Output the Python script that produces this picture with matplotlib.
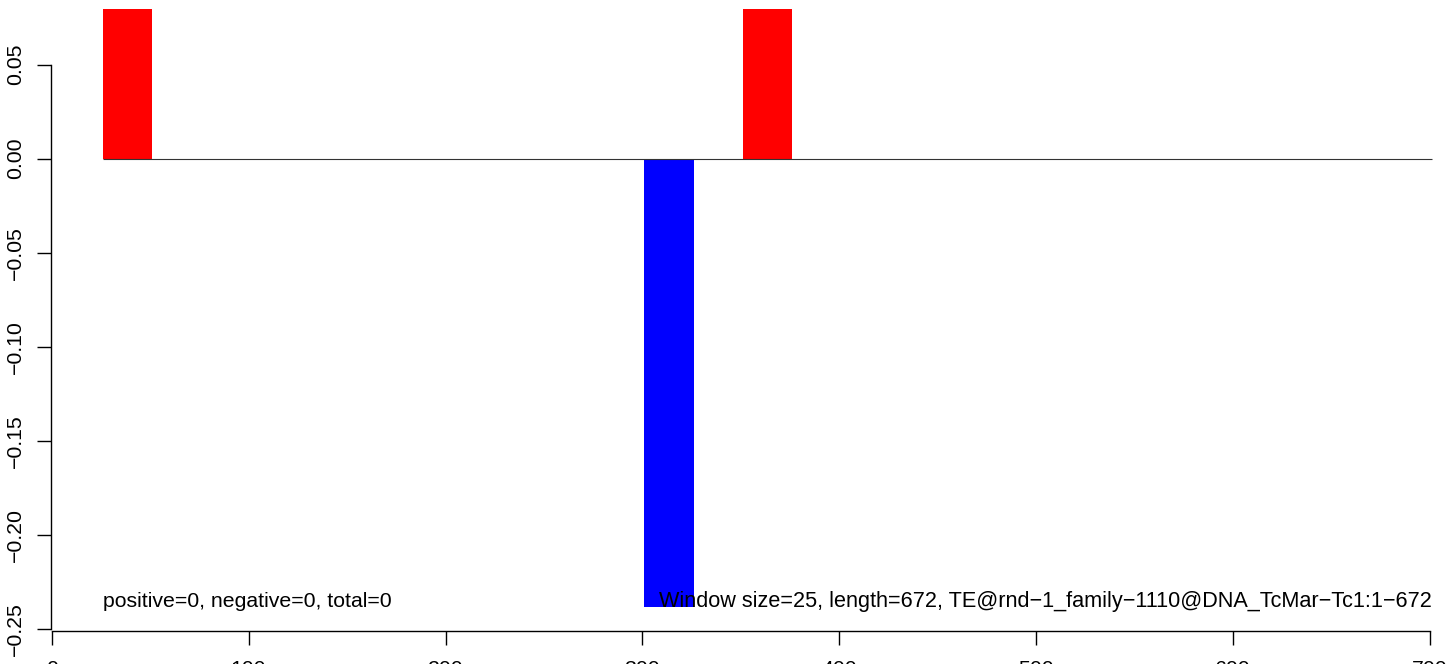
import matplotlib
matplotlib.use("Agg")
import matplotlib.pyplot as plt

plt.rcParams['font.family'] = ['Liberation Sans', 'DejaVu Sans']

# ---- data ----
window_starts = [26, 301, 351]
window_size = 25
values = [0.0795, -0.238, 0.0795]
bar_colors = ['#ff0000', '#0000ff', '#ff0000']
seq_start = 26
seq_end = 701
x_ticks = [0, 100, 200, 300, 400, 500, 600, 700]
x_ticklabels = ['0', '100', '200', '300', '400', '500', '600', '700']
y_ticks = [-0.25, -0.20, -0.15, -0.10, -0.05, 0.00, 0.05]
y_ticklabels = ['\u22120.25', '\u22120.20', '\u22120.15', '\u22120.10', '\u22120.05', '0.00', '0.05']
left_text = 'positive=0, negative=0, total=0'
right_text = 'Window size=25, length=672, TE@rnd\u22121_family\u22121110@DNA_TcMar\u2212Tc1:1\u2212672'

W, H = 1450, 664
fig = plt.figure(figsize=(W / 100, H / 100), dpi=100)

# pixel geometry of the plot region
px_x0, px_x700 = 51.7, 1430.0
sx = (px_x700 - px_x0) / 700.0
px_y0 = 158.7
sy = (629.3 - 158.7) / 0.25
left_px, bottom_px = 50.7, 630.5
xmin = (left_px - px_x0) / sx
xmax = (W - px_x0) / sx
ymin = -(bottom_px - px_y0) / sy
ymax = px_y0 / sy

ax = fig.add_axes([left_px / W, (H - bottom_px) / H, 1 - left_px / W, bottom_px / H])
ax.set_xlim(xmin, xmax)
ax.set_ylim(ymin, ymax)

ax.bar(window_starts, values, width=window_size, align='edge', color=bar_colors, linewidth=0)
ax.hlines(0, seq_start, seq_end, color='#333333', linewidth=0.8)

FS = 15.3
ax.text(seq_start, min(values), left_text, ha='left', va='baseline', fontsize=FS)
ax.text(seq_end, min(values), right_text, ha='right', va='baseline', fontsize=15.55)

for s in ['top', 'right']:
    ax.spines[s].set_visible(False)
ax.spines['left'].set_bounds(-0.25, 0.05)
ax.spines['bottom'].set_bounds(0, 700)
ax.spines['left'].set_linewidth(1.0)
ax.spines['bottom'].set_linewidth(1.0)

ax.set_xticks(x_ticks)
ax.set_xticklabels(x_ticklabels, fontsize=FS)
ax.set_yticks(y_ticks)
ax.set_yticklabels(y_ticklabels, fontsize=FS, rotation=90, va='center')
ax.tick_params(axis='both', length=9.9, width=1.0, color='black')
ax.tick_params(axis='x', pad=11.5)
ax.tick_params(axis='y', pad=8.3)

fig.savefig('out.png', dpi=100)
